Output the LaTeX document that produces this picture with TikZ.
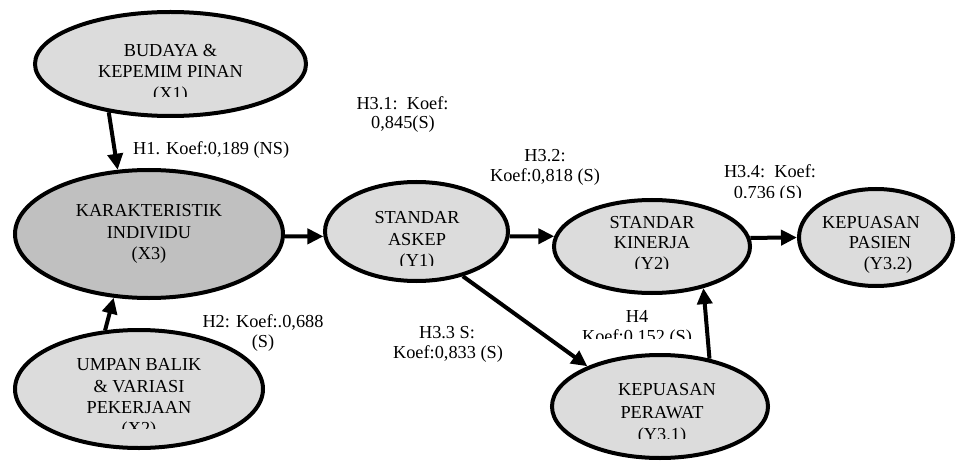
\documentclass[tikz,border=0pt]{standalone}
\usepackage{fontspec}
\setmainfont{Liberation Serif}
\usetikzlibrary{shapes.geometric,arrows.meta}
\definecolor{lightfill}{RGB}{220,220,220}
\definecolor{darkfill}{RGB}{192,192,192}
\begin{document}
\begin{tikzpicture}[x=1pt,y=1pt,
  var/.style={draw=black,line width=4pt,ellipse,fill=lightfill,inner sep=0pt},
  txt/.style={anchor=base,inner sep=0pt,font=\fontsize{18.3}{21}\selectfont},
  link/.style={line width=4pt,-{Triangle[length=16pt,width=15pt]}}]
\useasboundingbox (0,0) rectangle (957,461);
% ellipses
\node[var,minimum width=271pt,minimum height=104pt] (x1) at (170.5,397) {};
\node[var,fill=darkfill,minimum width=268pt,minimum height=128pt] (x3) at (149,227) {};
\node[var,minimum width=248pt,minimum height=118pt] (x2) at (139,72) {};
\node[var,minimum width=183pt,minimum height=99pt] (y1) at (416.5,229.5) {};
\node[var,minimum width=196pt,minimum height=93pt] (y2) at (652,214.5) {};
\node[var,minimum width=154pt,minimum height=97pt] (y32) at (876,223.5) {};
\node[var,minimum width=216pt,minimum height=103pt] (y31) at (660,54.5) {};
% ellipse texts
\node[txt] (x1a) at (170.5,404) {BUDAYA \&};
\node[txt] (x1b) at (170.5,383) {KEPEMIM PINAN};
\begin{scope}
\clip (0,364) rectangle (957,461);
\node[txt] (x1c) at (170.5,361.5) {(X1)};
\end{scope}
\node[txt] (x3a) at (149,244) {KARAKTERISTIK};
\node[txt] (x3b) at (149,223) {INDIVIDU};
\node[txt] (x3c) at (149,202) {(X3)};
\node[txt] (x2a) at (139,91) {UMPAN BALIK};
\node[txt] (x2b) at (139,69) {\& VARIASI};
\node[txt] (x2c) at (139,48) {PEKERJAAN};
\begin{scope}
\clip (0,33) rectangle (957,461);
\node[txt] (x2d) at (139,27) {(X2)};
\end{scope}
\node[txt] (y1a) at (417,238) {STANDAR};
\node[txt] (y1b) at (417,216) {ASKEP};
\begin{scope}
\clip (0,196) rectangle (957,461);
\node[txt] (y1c) at (417,194.5) {(Y1)};
\end{scope}
\node[txt] (y2a) at (652,233) {STANDAR};
\node[txt] (y2b) at (652,213) {KINERJA};
\begin{scope}
\clip (0,193) rectangle (957,461);
\node[txt] (y2c) at (652,192) {(Y2)};
\end{scope}
\node[txt] (y32a) at (871,233) {KEPUASAN};
\node[txt] (y32b) at (880,213) {PASIEN};
\node[txt] (y32c) at (888,192) {(Y3.2)};
\node[txt] (y31a) at (667,66) {KEPUASAN};
\node[txt] (y31b) at (662,43) {PERAWAT};
\begin{scope}
\clip (0,23) rectangle (957,461);
\node[txt] (y31c) at (662,21) {(Y3.1)};
\end{scope}
% coefficient labels
\node[txt,anchor=base west] (h1) at (133,306) {H1. Koef:0,189 (NS)};
\node[txt] (h2a) at (263,134) {H2: Koef:.0,688};
\node[txt] (h2b) at (263,114) {(S)};
\node[txt] (h31a) at (402.5,351) {H3.1:\ \ Koef:};
\node[txt] (h31b) at (403,332) {0,845(S)};
\node[txt] (h32a) at (545,299) {H3.2:};
\node[txt] (h32b) at (545,279) {Koef:0,818 (S)};
\node[txt] (h34a) at (770,283) {H3.4:\ \ Koef:};
\begin{scope}
\clip (0,263) rectangle (957,461);
\node[txt] (h34b) at (768,262) {0,736 (S)};
\end{scope}
\node[txt] (h33a) at (447,123) {H3.3 S:};
\node[txt] (h33b) at (448,103) {Koef:0,833 (S)};
\node[txt] (h4a) at (637,139) {H4};
\begin{scope}
\clip (0,123) rectangle (957,461);
\node[txt] (h4b) at (637,119) {Koef:0,152 (S)};
\end{scope}
% connectors
\draw[link] (x1.218) -- (x3.116.6);
\draw[link] (x2.120) -- (x3.241.6);
\draw[link] (x3.-1.3) -- (y1.183.4);
\draw[link] (y1.-3.4) -- (y2.174.6);
\draw[link] (y2.5.4) -- (y32.180);
\draw[link] (y1.-44) -- (y31.151.7);
\draw[link] (y31.44.7) -- (y2.-39);
\end{tikzpicture}
\end{document}
